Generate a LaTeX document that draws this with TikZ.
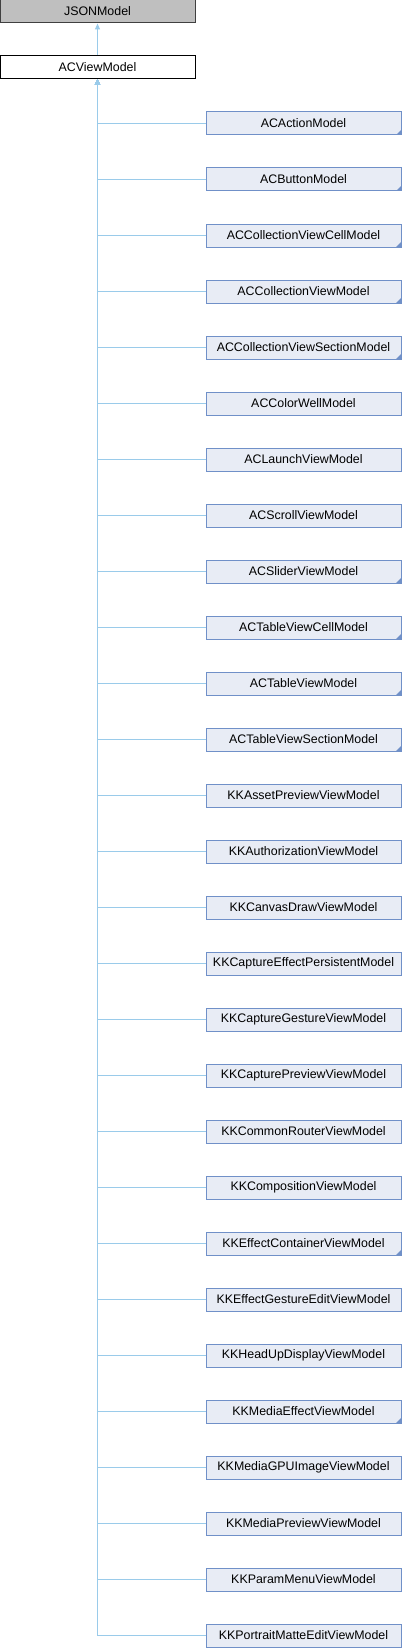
\documentclass[tikz,border=0pt]{standalone}
\usepackage{fontspec}
\setmainfont{Liberation Sans}
\usetikzlibrary{arrows.meta}
\definecolor{edgecol}{HTML}{9ACBEA}
\definecolor{kidfill}{HTML}{E8ECF5}
\definecolor{kidline}{HTML}{7090C8}
\definecolor{basefill}{HTML}{BFBFBF}
\definecolor{baseline}{HTML}{404040}
\tikzset{
  box/.style={draw, line width=1pt, minimum width=195pt, minimum height=23pt,
    inner sep=0pt, font=\fontsize{12.4}{14}\selectfont, anchor=center},
  basebox/.style={box, fill=basefill, draw=baseline},
  curbox/.style={box, fill=white, draw=black},
  kidbox/.style={box, fill=kidfill, draw=kidline},
  edge/.style={draw=edgecol, line width=1pt,
    -{Triangle[length=6pt,width=5pt,fill=edgecol]}},
  corner/.style={fill=kidline, draw=none},
}
\begin{document}
\begin{tikzpicture}[x=1pt,y=-1pt]
\useasboundingbox (0,0) rectangle (402,1648);
\node[basebox] (json) at (97.5,11.5) {JSONModel};
\node[curbox] (acv) at (97.5,67) {ACViewModel};
\draw[edge] (acv.north) -- (json.south);
\foreach \name/\more [count=\i from 0] in {
  ACActionModel/1,
  ACButtonModel/1,
  ACCollectionViewCellModel/1,
  ACCollectionViewModel/1,
  ACCollectionViewSectionModel/1,
  ACColorWellModel/0,
  ACLaunchViewModel/0,
  ACScrollViewModel/0,
  ACSliderViewModel/1,
  ACTableViewCellModel/1,
  ACTableViewModel/1,
  ACTableViewSectionModel/1,
  KKAssetPreviewViewModel/0,
  KKAuthorizationViewModel/0,
  KKCanvasDrawViewModel/0,
  KKCaptureEffectPersistentModel/0,
  KKCaptureGestureViewModel/0,
  KKCapturePreviewViewModel/0,
  KKCommonRouterViewModel/0,
  KKCompositionViewModel/0,
  KKEffectContainerViewModel/1,
  KKEffectGestureEditViewModel/0,
  KKHeadUpDisplayViewModel/0,
  KKMediaEffectViewModel/1,
  KKMediaGPUImageViewModel/0,
  KKMediaPreviewViewModel/0,
  KKParamMenuViewModel/0,
  KKPortraitMatteEditViewModel/0}
{
  \node[kidbox] (c\i) at (303.5,{123.5+56*\i}) {\name};
  \ifnum\more=1
    \fill[corner] ([xshift=-0.5pt,yshift=0.5pt]c\i.south east) -- ++(-5,0) -- ++(5,-5) -- cycle;
  \fi
  \draw[edge] (c\i.west) -| (acv.south);
}
\end{tikzpicture}
\end{document}
